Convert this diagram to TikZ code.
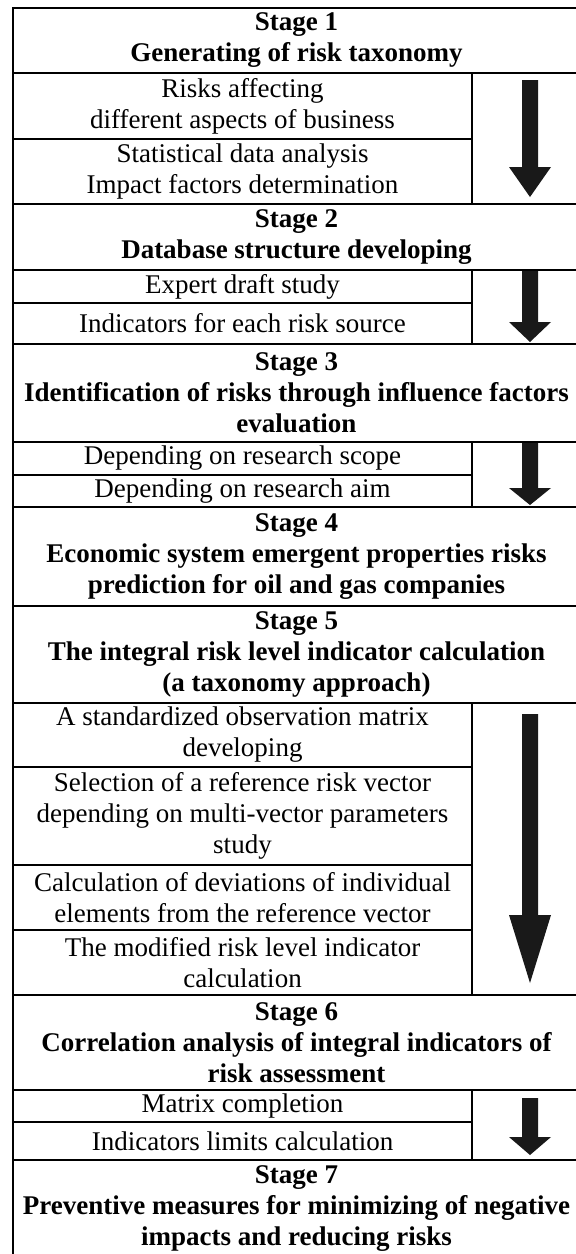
\documentclass[tikz,border=0pt]{standalone}
\usepackage{fontspec}
\setmainfont{Liberation Serif}
\newcommand\blockarr[3]{\fill[arr] (522,#1) -- (538,#1) -- (538,#2) -- (551,#2) -- (530,#3) -- (509,#2) -- (522,#2) -- cycle;}
\begin{document}
\begin{tikzpicture}[x=1pt,y=-1pt,
  cell/.style={draw, line width=2pt, inner sep=0pt, align=center, font=\fontsize{27}{31}\selectfont},
  head/.style={cell, font=\fontsize{27}{31}\selectfont\bfseries, minimum width=567pt},
  sub/.style={cell, minimum width=459pt},
  acol/.style={cell, minimum width=108pt},
  arr/.style={fill=black!90, draw=none}]
\clip (0,0) rectangle (576,1254);
% Stage 1
\node[head, minimum height=65pt] (h1) at (296.5,40.5) {Stage 1\\Generating of risk taxonomy};
\node[sub, minimum height=66pt] (s1a) at (242.5,106) {Risks affecting\\different aspects of business};
\node[sub, minimum height=65pt] (s1b) at (242.5,171.5) {Statistical data analysis\\Impact factors determination};
\node[acol, minimum height=131pt] (a1) at (526,138.5) {};
\blockarr{80}{167}{197}
% Stage 2
\node[head, minimum height=66pt] (h2) at (296.5,237) {Stage 2\\Database structure developing};
\node[sub, minimum height=33pt] (s2a) at (242.5,286.5) {Expert draft study};
\node[sub, minimum height=41pt] (s2b) at (242.5,323.5) {Indicators for each risk source};
\node[acol, minimum height=74pt] (a2) at (526,307) {};
\blockarr{271}{322}{342}
% Stage 3
\node[head, minimum height=98pt] (h3) at (296.5,393) {Stage 3\\Identification of risks through influence factors\\evaluation};
\node[sub, minimum height=33pt] (s3a) at (242.5,458.5) {Depending on research scope};
\node[sub, minimum height=32pt] (s3b) at (242.5,491) {Depending on research aim};
\node[acol, minimum height=65pt] (a3) at (526,474.5) {};
\blockarr{443}{488}{505}
% Stage 4
\node[head, minimum height=99pt] (h4) at (296.5,556.5) {Stage 4\\Economic system emergent properties risks\\prediction for oil and gas companies};
% Stage 5
\node[head, minimum height=97pt] (h5) at (296.5,654.5) {Stage 5\\The integral risk level indicator calculation\\(a taxonomy approach)};
\node[sub, minimum height=64pt] (s5a) at (242.5,735) {A standardized observation matrix\\developing};
\node[sub, minimum height=98pt] (s5b) at (242.5,816) {Selection of a reference risk vector\\depending on multi-vector parameters\\study};
\node[sub, minimum height=65pt] (s5c) at (242.5,897.5) {Calculation of deviations of individual\\elements from the reference vector};
\node[sub, minimum height=65pt] (s5d) at (242.5,962.5) {The modified risk level indicator\\calculation};
\node[acol, minimum height=292pt] (a5) at (526,849) {};
\blockarr{714}{915}{983}
% Stage 6
\node[head, minimum height=95pt] (h6) at (296.5,1042.5) {Stage 6\\Correlation analysis of integral indicators of\\risk assessment};
\node[sub, minimum height=32pt] (s6a) at (242.5,1106) {Matrix completion};
\node[sub, minimum height=38pt] (s6b) at (242.5,1141) {Indicators limits calculation};
\node[acol, minimum height=70pt] (a6) at (526,1125) {};
\blockarr{1098}{1137}{1155}
% Stage 7
\node[head, minimum height=98pt] (h7) at (296.5,1209) {Stage 7\\Preventive measures for minimizing of negative\\impacts and reducing risks};
\end{tikzpicture}
\end{document}
